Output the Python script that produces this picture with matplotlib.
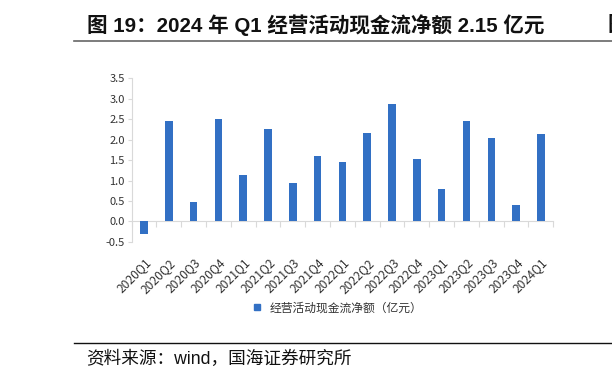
import matplotlib
matplotlib.use("Agg")
import matplotlib.pyplot as plt
from matplotlib.lines import Line2D
import numpy as np

plt.rcParams['font.family'] = ['Noto Sans CJK SC', 'DejaVu Sans']
LATIN_CJK = ['Liberation Sans', 'Noto Sans CJK SC']

# ── Data ───────────────────────────────────────────────────────────────────────
quarters = ["2020Q1", "2020Q2", "2020Q3", "2020Q4",
            "2021Q1", "2021Q2", "2021Q3", "2021Q4",
            "2022Q1", "2022Q2", "2022Q3", "2022Q4",
            "2023Q1", "2023Q2", "2023Q3", "2023Q4",
            "2024Q1"]
cash_flow = [-0.30, 2.47, 0.47, 2.51,
             1.13, 2.25, 0.94, 1.59,
             1.45, 2.16, 2.87, 1.53,
             0.79, 2.45, 2.05, 0.39,
             2.15]
yticks = [-0.5, 0.0, 0.5, 1.0, 1.5, 2.0, 2.5, 3.0, 3.5]

TITLE  = "图 19：2024 年 Q1 经营活动现金流净额 2.15 亿元"
SERIES = "经营活动现金流净额（亿元）"
SOURCE = "资料来源：wind，国海证券研究所"

# ── Colors ─────────────────────────────────────────────────────────────────────
BLUE  = "#3270C4"
AXIS  = "#D9D9D9"
TEXT  = "#333333"

# ── Plot ───────────────────────────────────────────────────────────────────────
fig = plt.figure(figsize=(6.12, 3.79), dpi=100)
ax = fig.add_axes([0.215, 0.362, 0.689, 0.431])

x = np.arange(len(quarters))
ax.bar(x, cash_flow, width=0.3, color=BLUE, zorder=3)

ax.set_xlim(-0.5, len(quarters) - 0.5)
ax.set_ylim(-0.5, 3.5)
ax.set_yticks(yticks)
ax.set_yticklabels([f"{v:.1f}" for v in yticks])

# x axis sits at y=0, labels pushed down below the plot
ax.spines["bottom"].set_position(("data", 0))
ax.set_xticks(x)
ax.set_xticklabels(quarters, rotation=45, ha="right", rotation_mode="anchor")
ax.set_xticks(np.arange(len(quarters) + 1) - 0.5, minor=True)
ax.tick_params(axis="x", which="major", length=0, pad=25, labelsize=8.7, labelcolor=TEXT)
ax.tick_params(axis="x", which="minor", length=4, color=AXIS, width=0.8)
ax.tick_params(axis="y", length=3, color=AXIS, width=0.8, labelsize=8, labelcolor=TEXT, pad=2)

for side in ("top", "right"):
    ax.spines[side].set_visible(False)
for side in ("left", "bottom"):
    ax.spines[side].set_color(AXIS)
    ax.spines[side].set_linewidth(0.8)

# legend
handle = Line2D([], [], marker="s", linestyle="none", color=BLUE, markersize=5)
fig.legend([handle], [SERIES], loc="center", bbox_to_anchor=(0.545, 0.187),
           frameon=False, fontsize=8.5, handletextpad=0.1, labelcolor=TEXT)

# title + rules + source
fig.text(0.142, 0.935, TITLE, fontsize=14.8, fontweight="bold", va="center",
         color="#111111", family=LATIN_CJK)
fig.text(0.993, 0.935, "图", fontsize=14.8, fontweight="bold", va="center", color="#111111")
fig.add_artist(Line2D([0.121, 1.0], [0.893, 0.893], color="#666666", linewidth=1.2))
fig.add_artist(Line2D([0.121, 1.0], [0.094, 0.094], color="#111111", linewidth=1.0))
fig.text(0.141, 0.053, SOURCE, fontsize=12.7, va="center", color="#111111", family=LATIN_CJK)

plt.savefig("out.png", dpi=100, facecolor="white")
